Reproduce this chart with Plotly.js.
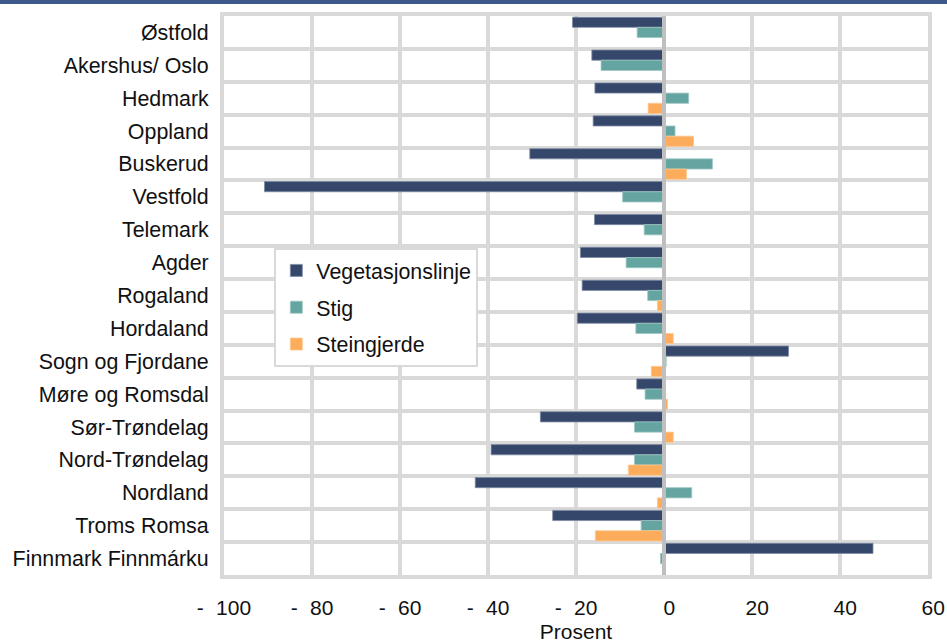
<!DOCTYPE html>
<html>
<head>
<meta charset="utf-8">
<script src="https://cdn.plot.ly/plotly-3.0.1.min.js"></script>
<style>
  html, body { margin: 0; padding: 0; background: #ffffff; }
  #topbar { position: absolute; left: 0; top: 0; width: 947px; height: 4px; background: #3e5a8b; z-index: 5; }
  #chart { width: 947px; height: 643px; }
</style>
</head>
<body>
<div id="topbar"></div>
<div id="chart"></div>
<script>
const categories = ["Østfold", "Akershus/ Oslo", "Hedmark", "Oppland", "Buskerud", "Vestfold", "Telemark", "Agder", "Rogaland", "Hordaland", "Sogn og Fjordane", "Møre og Romsdal", "Sør-Trøndelag", "Nord-Trøndelag", "Nordland", "Troms Romsa", "Finnmark Finnmárku"];
const seriesNames = ["Vegetasjonslinje", "Stig", "Steingjerde"];
const vegetasjonslinje = [-20.8, -16.4, -15.7, -16.1, -30.5, -90.8, -15.8, -19.0, -18.6, -19.7, 28.3, -6.2, -28.1, -39.3, -42.9, -25.3, 47.5];
const stig = [-6.1, -14.3, 5.6, 2.5, 11.0, -9.4, -4.5, -8.6, -3.7, -6.4, 0.5, -4.3, -6.7, -6.7, 6.3, -5.2, -0.8];
const steingjerde = [0, 0, -3.6, 6.7, 5.1, 0, 0.3, 0, -1.5, 2.1, -2.9, 0.8, 2.1, -8.1, -1.5, -15.6, 0];
const xTickVals = [-100, -80, -60, -40, -20, 0, 20, 40, 60];
const xTickText = ["-\u2002\u200a100", "-\u2002\u200a80", "-\u2002\u200a60", "-\u2002\u200a40", "-\u2002\u200a20", "\u20020", "\u200220", "\u200240", "\u200260"];

const colors = ["#35486b", "#64a4a1", "#fdac5b"];
const lineColors = ["#7d8aa3", "#9cc6c3", "#fdc890"];
const values = [vegetasjonslinje, stig, steingjerde];
const groups = ["a", "b", "c"];

const FONT = "Liberation Sans, Arial, sans-serif";
const traces = values.map((v, i) => ({
  type: "bar",
  orientation: "h",
  name: seriesNames[i],
  y: categories,
  x: v,
  legendgroup: groups[i],
  marker: { color: colors[i], line: { color: lineColors[i], width: 0.8 } },
  hoverinfo: "x+y+name"
}));

const layout = {
  width: 947,
  height: 643,
  margin: { l: 224, r: 19, t: 16, b: 68, pad: 0 },
  paper_bgcolor: "#ffffff",
  plot_bgcolor: "#ffffff",
  font: { family: FONT, size: 21, color: "#111111" },
  barmode: "group",
  bargap: 0.07,
  bargroupgap: 0,
  showlegend: true,
  legend: {
    x: 0.0715, xanchor: "left",
    y: 0.585, yanchor: "top",
    bgcolor: "#ffffff",
    bordercolor: "#d9d9d9",
    borderwidth: 2,
    font: { family: FONT, size: 21.4, color: "#111111" },
    traceorder: "grouped",
    tracegroupgap: 6
  },
  xaxis: {
    range: [-100, 60],
    tickmode: "array",
    tickvals: xTickVals,
    ticktext: xTickText,
    showgrid: true,
    gridcolor: "#d9d9d9",
    gridwidth: 4,
    zeroline: false,
    showline: true,
    mirror: true,
    linecolor: "#d9d9d9",
    linewidth: 4,
    ticks: "",
    ticklabelstandoff: 11,
    tickfont: { family: FONT, size: 21, color: "#111111" },
    title: { text: "Prosent", font: { family: FONT, size: 21, color: "#111111" }, standoff: 7 },
    automargin: false,
    fixedrange: true
  },
  yaxis: {
    type: "category",
    autorange: "reversed",
    tickson: "boundaries",
    showgrid: true,
    gridcolor: "#d9d9d9",
    gridwidth: 4,
    zeroline: false,
    showline: true,
    mirror: true,
    linecolor: "#d9d9d9",
    linewidth: 4,
    ticks: "",
    ticklabelstandoff: 7,
    tickfont: { family: FONT, size: 21.4, color: "#111111" },
    automargin: false,
    fixedrange: true
  },
  shapes: [{
    type: "line", xref: "x", yref: "paper",
    x0: 0, x1: 0, y0: 0, y1: 1,
    line: { color: "#bfbfbf", width: 4 },
    layer: "above"
  }]
};

Plotly.newPlot("chart", traces, layout, { displayModeBar: false, staticPlot: true });
</script>
</body>
</html>
